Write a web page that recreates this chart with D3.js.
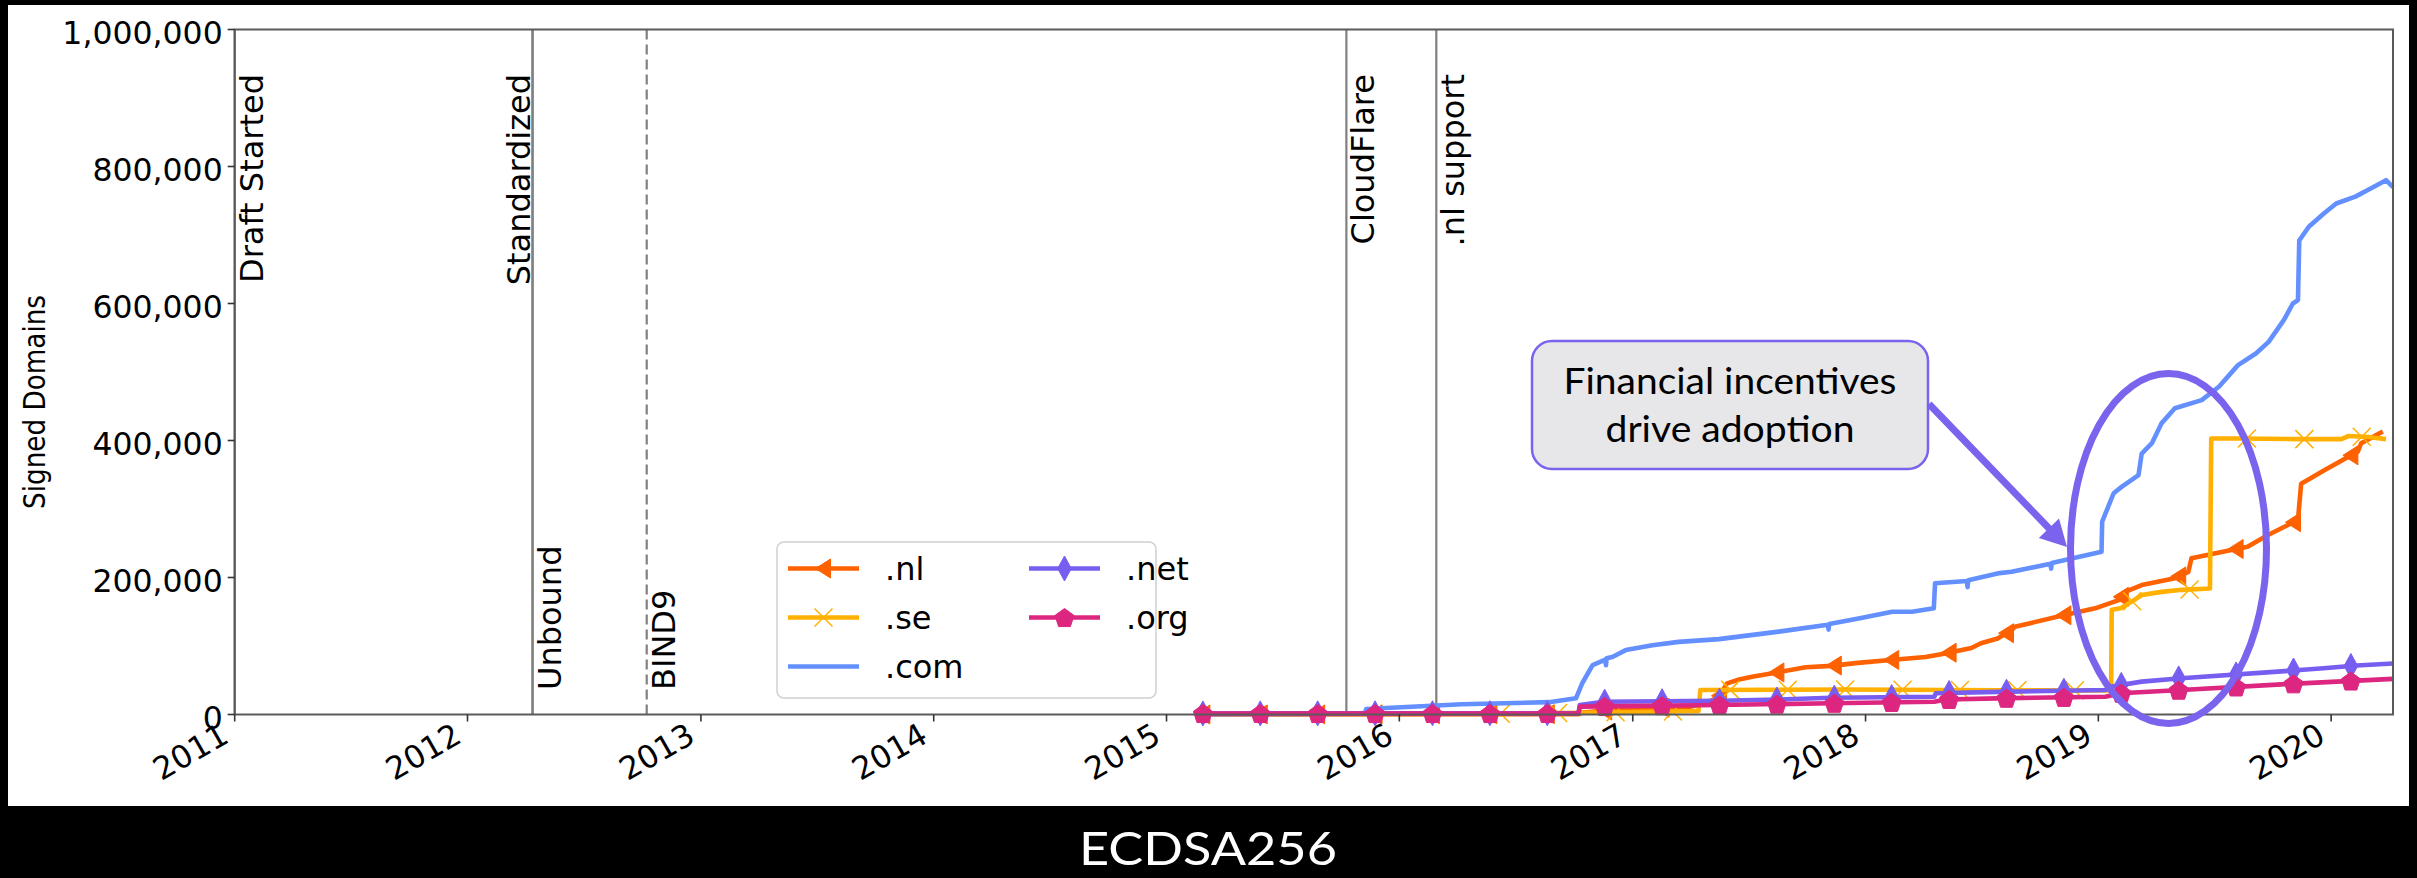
<!DOCTYPE html>
<html><head><meta charset="utf-8">
<script src="https://cdn.jsdelivr.net/npm/d3@7"></script>
<style>
html,body{margin:0;padding:0;background:#000;}
svg{display:block;}
</style></head><body>
<svg id="c" width="2417" height="878"></svg>
<script>
// ---------------- data ----------------
const seriesNames = [".nl", ".se", ".com", ".net", ".org"];
const nlData = [["2015-02-27",0],["2016-10-08",500],["2016-10-15",3000],["2016-11-25",6500],["2017-01-21",9000],["2017-03-30",11000],["2017-04-25",16000],["2017-05-16",26000],["2017-05-29",45500],["2017-06-17",51000],["2017-07-07",55000],["2017-08-13",61000],["2017-09-29",69000],["2017-11-09",71000],["2017-12-16",75000],["2018-02-09",79500],["2018-04-05",84000],["2018-05-06",89000],["2018-06-16",97000],["2018-07-01",104000],["2018-07-27",111000],["2018-08-18",123000],["2018-08-23",128000],["2018-10-30",143000],["2018-12-27",155000],["2019-02-02",167000],["2019-02-12",179000],["2019-03-10",189000],["2019-05-01",199000],["2019-05-22",208000],["2019-05-27",228000],["2019-07-02",235000],["2019-08-23",245000],["2019-09-24",262000],["2019-11-10",284000],["2019-11-15",337000],["2019-12-22",357000],["2020-02-12",384000],["2020-02-17",396000],["2020-03-22",413000]];
const seData = [["2016-06-08",1000],["2016-10-10",2500],["2017-04-14",5000],["2017-04-17",35800],["2017-12-01",36500],["2018-08-01",35500],["2019-01-21",35000],["2019-01-22",153000],["2019-02-05",155000],["2019-02-26",167000],["2019-03-10",174500],["2019-04-10",179000],["2019-05-12",182000],["2019-06-25",184000],["2019-06-27",403000],["2019-08-15",403000],["2019-11-15",402000],["2020-01-17",402000],["2020-01-28",406500],["2020-02-28",405000],["2020-03-27",402000]];
const comData = [["2015-02-27",500],["2015-11-08",1000],["2015-11-10",8000],["2016-04-08",15000],["2016-08-23",18000],["2016-10-04",23600],["2016-10-14",46000],["2016-10-30",72000],["2016-11-19",80000],["2016-11-20",72000],["2016-11-21",82000],["2016-11-30",84000],["2016-12-21",94000],["2017-02-01",101000],["2017-03-14",106000],["2017-05-16",110000],["2017-08-18",121000],["2017-11-03",131000],["2017-11-04",124000],["2017-11-05",132000],["2017-12-21",140000],["2018-02-12",150000],["2018-03-15",150000],["2018-04-18",155000],["2018-04-20",191500],["2018-06-09",195000],["2018-06-10",186000],["2018-06-11",196000],["2018-07-27",206000],["2018-08-18",208500],["2018-10-18",220000],["2018-10-19",213000],["2018-10-20",221000],["2019-01-06",237700],["2019-01-07",281500],["2019-01-25",323000],["2019-02-07",332600],["2019-03-05",349600],["2019-03-10",381000],["2019-03-26",396000],["2019-04-10",425000],["2019-05-01",447000],["2019-06-12",459000],["2019-07-09",478500],["2019-08-08",510000],["2019-09-05",527000],["2019-09-25",544000],["2019-10-19",576000],["2019-11-02",600000],["2019-11-10",605000],["2019-11-12",692000],["2019-11-27",712000],["2019-12-21",731700],["2020-01-09",746000],["2020-02-08",756000],["2020-03-03",768000],["2020-03-27",780000],["2020-04-07",770000]];
const netData = [["2015-02-27",1500],["2016-10-08",2000],["2016-10-10",14000],["2016-11-17",18700],["2017-05-16",20000],["2017-08-18",22000],["2017-11-08",24500],["2018-04-19",26000],["2018-04-21",31000],["2018-07-27",33000],["2019-01-12",35800],["2019-01-20",40600],["2019-03-10",48000],["2019-05-11",53000],["2019-10-15",63000],["2019-12-20",67500],["2020-02-10",71500],["2020-04-07",74500]];
const orgData = [["2015-02-27",1500],["2016-10-08",1500],["2016-10-10",11500],["2017-05-16",13900],["2017-11-08",16400],["2018-04-19",18700],["2018-05-06",22000],["2018-07-27",23600],["2019-01-12",26000],["2019-02-05",31000],["2019-05-11",35800],["2019-10-15",44000],["2020-04-07",52000]];
const markerStarts = ["2015-02-27","2016-06-08",null,"2015-02-27","2015-02-27"];
const markerStepDays = 90;

const yTicks = [0, 200000, 400000, 600000, 800000, 1000000];
const xTickYears = [2011, 2012, 2013, 2014, 2015, 2016, 2017, 2018, 2019, 2020];
const xDomain = ["2011-01-01", "2020-04-07"];
const yDomain = [0, 1000000];

const eventDates = ["2011-01-01","2012-04-12","2012-04-12","2012-10-08","2015-10-10","2016-02-28"];
const eventLabels = ["Draft Started","Standardized","Unbound","BIND9","CloudFlare",".nl support"];

const yLabel = "Signed Domains";
const titleText = "ECDSA256";
const noteLines = ["Financial incentives", "drive adoption"];

// ---------------- styles ----------------
const colors = {".nl":"#FE6100", ".se":"#FFB000", ".com":"#648FFF", ".net":"#785EF0", ".org":"#DC267F"};
const markerKind = {".nl":"tri", ".se":"x", ".com":null, ".net":"diamond", ".org":"pent"};
const eventStyle = {
  "Draft Started": {side:"right", va:"top", dash:null},
  "Standardized": {side:"left", va:"top", dash:null},
  "Unbound": {side:"right", va:"bottom", dash:null},
  "BIND9": {side:"right", va:"bottom", dash:"10,5"},
  "CloudFlare": {side:"right", va:"top", dash:null},
  ".nl support": {side:"right", va:"top", dash:null}
};
const accent = "#7B63EE";

const parse = d3.utcParse("%Y-%m-%d");
const allData = [nlData, seData, comData, netData, orgData].map(a => a.map(d => ({date: parse(d[0]), value: d[1]})));

const svg = d3.select("#c");
const L = 234.7, R = 2393, T = 29.5, B = 714.5;

svg.append("rect").attr("x", 8).attr("y", 5).attr("width", 2401).attr("height", 801).attr("fill", "#fff");

const x = d3.scaleUtc().domain(xDomain.map(parse)).range([L, R]);
const y = d3.scaleLinear().domain(yDomain).range([B, T]);

const FONT = "'DejaVu Sans', sans-serif";

// event lines
const ev = svg.append("g");
eventDates.forEach((ds, i) => {
  const lab = eventLabels[i], st = eventStyle[lab];
  const xx = x(parse(ds));
  ev.append("line").attr("x1", xx).attr("x2", xx).attr("y1", T).attr("y2", B)
    .attr("stroke", "#808080").attr("stroke-width", 2.2)
    .attr("stroke-dasharray", st.dash);
  const bx = st.side === "right" ? xx + 28 : xx - 3;
  const by = st.va === "top" ? 74 : 690;
  ev.append("text").attr("transform", `translate(${bx},${by}) rotate(-90)`)
    .attr("text-anchor", st.va === "top" ? "end" : "start")
    .attr("font-family", FONT).attr("font-size", 32).attr("fill", "#000")
    .text(lab);
});

// series
const line = d3.line().x(d => x(d.date)).y(d => y(d.value));
function valueAt(data, t) {
  const bis = d3.bisector(d => d.date).left;
  const i = bis(data, t);
  if (i <= 0) return data[0].value;
  if (i >= data.length) return data[data.length - 1].value;
  const a = data[i - 1], b = data[i];
  const f = (t - a.date) / (b.date - a.date);
  return a.value + f * (b.value - a.value);
}
function markerPath(kind) {
  if (kind === "tri") return "M-8,0L7,-9.5L7,9.5Z";
  if (kind === "diamond") return "M0,-12.5L6.8,0L0,12.5L-6.8,0Z";
  if (kind === "pent") {
    const r = 10; let p = [];
    for (let k = 0; k < 5; k++) { const a = -Math.PI / 2 + k * 2 * Math.PI / 5; p.push([r * Math.cos(a), r * Math.sin(a) + 1]); }
    return "M" + p.map(q => q.join(",")).join("L") + "Z";
  }
  if (kind === "x") return "M-9,-9L9,9M-9,9L9,-9";
  return null;
}
function drawMarker(g, kind, cx, cy, col) {
  const p = markerPath(kind);
  if (!p) return;
  if (kind === "x") {
    g.append("path").attr("d", p).attr("transform", `translate(${cx},${cy})`)
      .attr("stroke", col).attr("stroke-width", 1.5).attr("fill", "none");
  } else {
    g.append("path").attr("d", p).attr("transform", `translate(${cx},${cy})`)
      .attr("fill", col).attr("stroke", col).attr("stroke-width", 1);
  }
}
const sg = svg.append("g");
seriesNames.forEach((name, i) => {
  const data = allData[i], col = colors[name];
  sg.append("path").datum(data).attr("d", line).attr("fill", "none")
    .attr("stroke", col).attr("stroke-width", 4.6).attr("stroke-linejoin", "round").attr("stroke-linecap", "butt");
  if (markerStarts[i]) {
    const last = data[data.length - 1].date;
    let t = parse(markerStarts[i]);
    while (t <= last) {
      drawMarker(sg, markerKind[name], x(t), y(valueAt(data, t)), col);
      t = d3.utcDay.offset(t, markerStepDays);
    }
  }
});

// frame
svg.append("rect").attr("x", L).attr("y", T).attr("width", R - L).attr("height", B - T)
  .attr("fill", "none").attr("stroke", "#5a5a5a").attr("stroke-width", 2);

// y axis
const ya = svg.append("g");
yTicks.forEach(v => {
  const yy = y(v);
  ya.append("line").attr("x1", L - 7).attr("x2", L).attr("y1", yy).attr("y2", yy).attr("stroke", "#333").attr("stroke-width", 1.6);
  ya.append("text").attr("x", L - 12).attr("y", yy + 14).attr("text-anchor", "end")
    .attr("font-family", FONT).attr("font-size", 31.5).attr("fill", "#000").text(d3.format(",")(v));
});
// x axis
const xa = svg.append("g");
xTickYears.forEach(yr => {
  const xx = x(Date.UTC(yr, 0, 1));
  xa.append("line").attr("x1", xx).attr("x2", xx).attr("y1", B).attr("y2", B + 7).attr("stroke", "#333").attr("stroke-width", 1.6);
  xa.append("text").attr("transform", `translate(${xx - 16},${B + 6}) rotate(-30)`)
    .attr("text-anchor", "end").attr("dy", "0.76em")
    .attr("font-family", FONT).attr("font-size", 31.5).attr("fill", "#000").text(yr);
});
// y label
svg.append("text").attr("transform", `translate(45,402) rotate(-90)`).attr("text-anchor", "middle")
  .attr("font-family", FONT).attr("font-size", 29.5).attr("fill", "#000")
  .attr("textLength", 214).attr("lengthAdjust", "spacingAndGlyphs").text(yLabel);

// legend
const lg = svg.append("g");
lg.append("rect").attr("x", 777).attr("y", 542).attr("width", 379).attr("height", 156).attr("rx", 7)
  .attr("fill", "#fff").attr("fill-opacity", 0.85).attr("stroke", "#d0d0d0").attr("stroke-width", 1.5);
seriesNames.forEach((name, i) => {
  const col = i < 3 ? 0 : 1, row = i < 3 ? i : i - 3;
  const x0 = col === 0 ? 788 : 1029, yy = 568.5 + row * 49;
  lg.append("line").attr("x1", x0).attr("x2", x0 + 71).attr("y1", yy).attr("y2", yy).attr("stroke", colors[name]).attr("stroke-width", 4.6);
  if (markerKind[name]) drawMarker(lg, markerKind[name], x0 + 35.5, yy, colors[name]);
  lg.append("text").attr("x", x0 + 97).attr("y", yy + 11).attr("font-family", FONT).attr("font-size", 32).attr("fill", "#000").text(name);
});

// annotation
const an = svg.append("g");
an.append("rect").attr("x", 1532).attr("y", 341).attr("width", 396).attr("height", 128).attr("rx", 20)
  .attr("fill", "#E7E6E8").attr("stroke", accent).attr("stroke-width", 2.5);
noteLines.forEach((t, i) => {
  an.append("text").attr("x", 1730).attr("y", 394 + i * 47.7).attr("text-anchor", "middle")
    .attr("font-family", "Lato, 'Open Sans', sans-serif").attr("font-size", 37).attr("fill", "#000")
    .attr("textLength", i === 0 ? 333 : 249).attr("lengthAdjust", "spacingAndGlyphs").text(t);
});
// arrow
const ax0 = 1929, ay0 = 404, ax1 = 2067, ay1 = 547;
const dx = ax1 - ax0, dy = ay1 - ay0, len = Math.hypot(dx, dy), ux = dx / len, uy = dy / len;
const hl = 26, hw = 14;
const bxh = ax1 - ux * hl, byh = ay1 - uy * hl;
an.append("line").attr("x1", ax0).attr("y1", ay0).attr("x2", bxh + ux * 2).attr("y2", byh + uy * 2)
  .attr("stroke", accent).attr("stroke-width", 7);
an.append("path").attr("d", `M${ax1},${ay1}L${bxh - uy * hw},${byh + ux * hw}L${bxh + uy * hw},${byh - ux * hw}Z`).attr("fill", accent);
// ellipse
an.append("ellipse").attr("cx", 2168.5).attr("cy", 548.5).attr("rx", 98).attr("ry", 175)
  .attr("fill", "none").attr("stroke", accent).attr("stroke-width", 7);

// title
svg.append("text").attr("x", 1208).attr("y", 865).attr("text-anchor", "middle")
  .attr("font-family", "Lato, 'Open Sans', sans-serif").attr("font-size", 47).attr("fill", "#fff")
  .attr("textLength", 258).attr("lengthAdjust", "spacingAndGlyphs").text(titleText);
</script>
</body></html>
